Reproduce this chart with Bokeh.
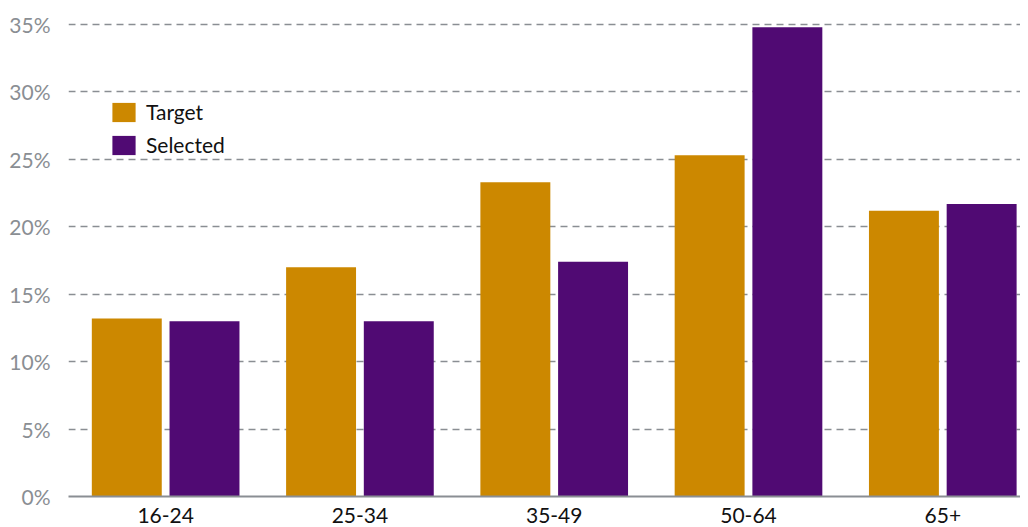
from bokeh.plotting import figure
from bokeh.models import ColumnDataSource, Range1d, FixedTicker, PrintfTickFormatter, Legend, LegendItem
from bokeh.transform import dodge
from bokeh.embed import file_html
from bokeh.resources import INLINE

categories = ["16-24", "25-34", "35-49", "50-64", "65+"]
target = [13.2, 17.0, 23.3, 25.3, 21.2]
selected = [13.0, 13.0, 17.4, 34.8, 21.7]
y_ticks = [0, 5, 10, 15, 20, 25, 30, 35]

src = ColumnDataSource(dict(x=list(range(len(categories))), target=target, selected=selected))

FONT = "Lato"
p = figure(width=1020, height=525, output_backend="svg", toolbar_location=None,
           x_range=Range1d(-0.5, 4.4), y_range=Range1d(0, 35.3),
           min_border_left=68, min_border_right=0, min_border_top=20, min_border_bottom=10)
p.outline_line_color = None
p.background_fill_color = "white"

r1 = p.vbar(x=dodge("x", -0.2), top="target", width=0.36, source=src,
            fill_color="#CC8800", line_color=None)
r2 = p.vbar(x=dodge("x", 0.2), top="selected", width=0.36, source=src,
            fill_color="#500A73", line_color=None)

p.xgrid.grid_line_color = None
p.ygrid.ticker = FixedTicker(ticks=y_ticks[1:])
p.ygrid.grid_line_color = "#8a8e93"
p.ygrid.grid_line_dash = "7 5"
p.ygrid.grid_line_width = 1.5

xa = p.xaxis[0]
xa.ticker = FixedTicker(ticks=list(range(len(categories))))
xa.major_label_overrides = {i: c for i, c in enumerate(categories)}
xa.major_tick_line_color = None
xa.minor_tick_line_color = None
xa.axis_line_color = "#8a8e93"
xa.axis_line_width = 2
xa.major_label_text_font = FONT
xa.major_label_text_font_size = "21px"
xa.major_label_text_color = "#111111"
xa.major_label_standoff = 5

ya = p.yaxis[0]
ya.ticker = FixedTicker(ticks=y_ticks)
ya.formatter = PrintfTickFormatter(format="%d%%")
ya.axis_line_color = None
ya.major_tick_line_color = None
ya.minor_tick_line_color = None
ya.major_label_text_font = FONT
ya.major_label_text_font_size = "21px"
ya.major_label_text_color = "#8a8e93"
ya.major_label_standoff = 12

legend = Legend(items=[LegendItem(label="Target", renderers=[r1]),
                       LegendItem(label="Selected", renderers=[r2])],
                location=(41, 339), padding=0, margin=0, spacing=8,
                glyph_width=29, glyph_height=24, label_height=24, label_standoff=8,
                label_text_font=FONT, label_text_font_size="21px",
                label_text_color="#111111",
                border_line_color=None, background_fill_alpha=0)
p.add_layout(legend, "center")

open("out.html", "w").write(file_html(p, INLINE))
